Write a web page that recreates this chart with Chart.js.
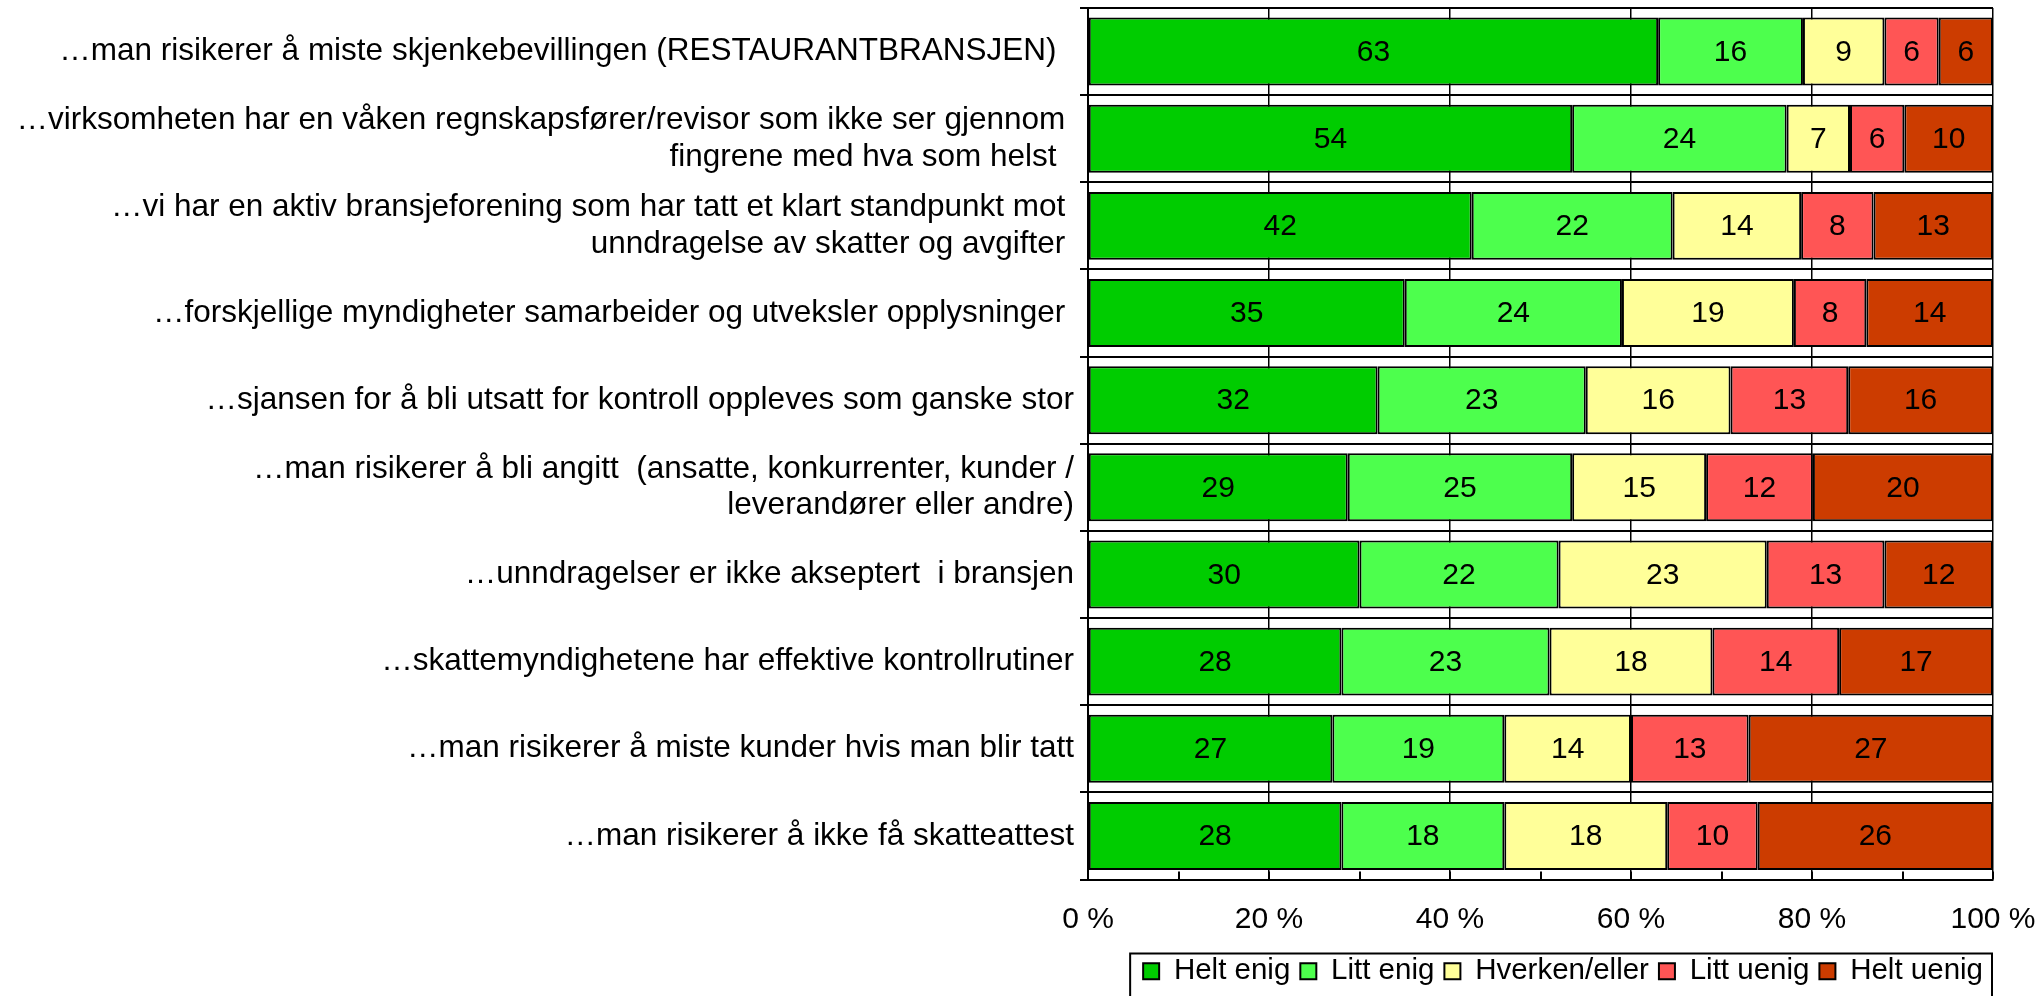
<!DOCTYPE html>
<html lang="no">
<head>
<meta charset="UTF-8">
<title>Hva hindrer unndragelser</title>
<script src="https://cdn.jsdelivr.net/npm/chart.js"></script>
<style>
  html,body{margin:0;padding:0;background:#fff}
  #wrap{width:2039px;height:996px}
</style>
</head>
<body>
<div id="wrap"><canvas id="chart" width="2039" height="996"></canvas></div>
<script>
// categories (top to bottom)
const categories = [
  '…man risikerer å miste skjenkebevillingen (RESTAURANTBRANSJEN)  ',
  ['…virksomheten har en våken regnskapsfører/revisor som ikke ser gjennom ', 'fingrene med hva som helst  '],
  ['…vi har en aktiv bransjeforening som har tatt et klart standpunkt mot ', 'unndragelse av skatter og avgifter '],
  '…forskjellige myndigheter samarbeider og utveksler opplysninger ',
  '…sjansen for å bli utsatt for kontroll oppleves som ganske stor',
  ['…man risikerer å bli angitt  (ansatte, konkurrenter, kunder /', 'leverandører eller andre)'],
  '…unndragelser er ikke akseptert  i bransjen',
  '…skattemyndighetene har effektive kontrollrutiner',
  '…man risikerer å miste kunder hvis man blir tatt',
  '…man risikerer å ikke få skatteattest'
];

// series, percent
const heltEnig  = [63, 53.5, 42.4, 35, 32, 28.7, 30, 28, 27, 28];
const littEnig  = [16, 23.7, 22.2, 24, 23, 24.8, 22, 23, 19, 18];
const hverken   = [ 9,  7.0, 14.2, 19, 16, 14.8, 23, 18, 14, 18];
const littUenig = [ 6,  6.0,  8.0,  8, 13, 11.8, 13, 14, 13, 10];
const heltUenig = [ 6,  9.8, 13.2, 14, 16, 19.9, 12, 17, 27, 26];

const seriesNames = ['Helt enig', 'Litt enig', 'Hverken/eller', 'Litt uenig', 'Helt uenig'];
const seriesColors = ['#00cc00', '#4dff4d', '#ffff99', '#ff5555', '#cc3c00'];
const seriesData = [heltEnig, littEnig, hverken, littUenig, heltUenig];

// x axis tick labels every 20 %
const xTickLabels = ['0 %', '20 %', '40 %', '60 %', '80 %', '100 %'];

const FONT = "'Liberation Sans', Arial, sans-serif";
Chart.defaults.font.family = FONT;
Chart.defaults.color = '#000';

/* numbers in the middle of each segment */
const barValues = {
  id: 'barValues',
  afterDatasetsDraw(chart) {
    const ctx = chart.ctx;
    ctx.save();
    ctx.font = '30px ' + FONT;
    ctx.fillStyle = '#000';
    ctx.textAlign = 'center';
    ctx.textBaseline = 'middle';
    chart.data.datasets.forEach((ds, i) => {
      chart.getDatasetMeta(i).data.forEach((el, j) => {
        const p = el.getProps(['x', 'y', 'base'], true);
        ctx.fillText(Math.round(ds.data[j]), (p.x + p.base) / 2, p.y + 1);
      });
    });
    ctx.restore();
  }
};

/* small inner tick marks on the x axis */
const innerTicks = {
  id: 'innerTicks',
  afterDatasetsDraw(chart) {
    const sx = chart.scales.x, ctx = chart.ctx, b = chart.chartArea.bottom;
    ctx.save();
    ctx.strokeStyle = '#000';
    ctx.lineWidth = 2;
    sx.ticks.forEach(t => {
      const x = Math.round(sx.getPixelForValue(t.value));
      ctx.beginPath(); ctx.moveTo(x, b); ctx.lineTo(x, b - 8); ctx.stroke();
    });
    ctx.restore();
  }
};

/* frame round the legend */
const legendFrame = {
  id: 'legendFrame',
  afterDraw(chart) {
    const hb = chart.legend.legendHitBoxes;
    if (!hb || !hb.length) return;
    const left = Math.min(...hb.map(h => h.left)) - 13;
    const right = Math.max(...hb.map(h => h.left + h.width)) + 9;
    const top = Math.min(...hb.map(h => h.top)) - 3;
    const ctx = chart.ctx;
    ctx.save();
    ctx.strokeStyle = '#000';
    ctx.lineWidth = 2;
    ctx.strokeRect(left, top, right - left, chart.height + 4 - top);
    ctx.restore();
  }
};

new Chart(document.getElementById('chart'), {
  type: 'bar',
  data: {
    labels: categories,
    datasets: seriesData.map((d, i) => ({
      label: seriesNames[i],
      data: d,
      backgroundColor: seriesColors[i],
      borderColor: '#000',
      borderWidth: 2,
      borderSkipped: false,
      barPercentage: 0.78,
      categoryPercentage: 1
    }))
  },
  options: {
    indexAxis: 'y',
    responsive: false,
    animation: false,
    devicePixelRatio: 1,
    layout: { padding: { top: 8, right: 46, left: 0, bottom: 0 } },
    plugins: {
      tooltip: { enabled: false },
      legend: {
        position: 'bottom',
        align: 'end',
        labels: {
          font: { size: 29.5 },
          color: '#000',
          boxWidth: 16,
          boxHeight: 16,
          padding: 10
        }
      }
    },
    scales: {
      x: {
        stacked: true,
        min: 0,
        max: 100,
        afterFit(scale) {
          scale.height = 67;
          scale.paddingLeft = 0;
          scale.paddingRight = 0;
        },
        border: { color: '#000', width: 2 },
        grid: {
          drawTicks: false,
          lineWidth: 1.5,
          color: c => (c.tick && c.tick.value % 20 === 0) ? '#000' : 'rgba(0,0,0,0)'
        },
        ticks: {
          stepSize: 10,
          autoSkip: false,
          maxRotation: 0,
          padding: 22,
          font: { size: 30 },
          color: '#000',
          callback: v => v % 20 === 0 ? xTickLabels[v / 20] : ''
        }
      },
      y: {
        stacked: true,
        afterFit(scale) {
          scale.width = 1088;
          scale.paddingTop = 0;
          scale.paddingBottom = 0;
        },
        border: { color: '#000', width: 2 },
        grid: {
          offset: true,
          color: '#000',
          lineWidth: 2,
          tickLength: 8
        },
        ticks: {
          autoSkip: false,
          padding: 6,
          font: { size: 31.5, lineHeight: 1.15 },
          color: '#000'
        }
      }
    }
  },
  plugins: [barValues, innerTicks, legendFrame]
});
</script>
</body>
</html>
